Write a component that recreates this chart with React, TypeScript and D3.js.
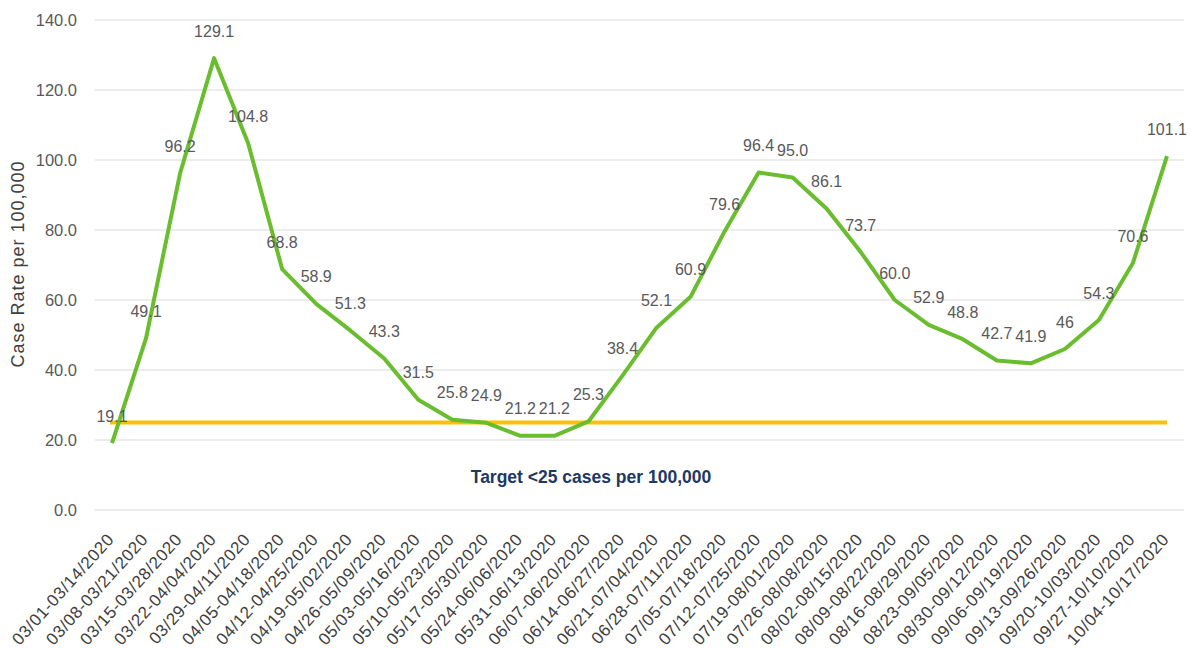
import React, { useEffect, useRef } from 'react'
import * as d3 from 'd3'

// weekly rolling windows
const weeks = [
  '03/01-03/14/2020', '03/08-03/21/2020', '03/15-03/28/2020', '03/22-04/04/2020',
  '03/29-04/11/2020', '04/05-04/18/2020', '04/12-04/25/2020', '04/19-05/02/2020',
  '04/26-05/09/2020', '05/03-05/16/2020', '05/10-05/23/2020', '05/17-05/30/2020',
  '05/24-06/06/2020', '05/31-06/13/2020', '06/07-06/20/2020', '06/14-06/27/2020',
  '06/21-07/04/2020', '06/28-07/11/2020', '07/05-07/18/2020', '07/12-07/25/2020',
  '07/19-08/01/2020', '07/26-08/08/2020', '08/02-08/15/2020', '08/09-08/22/2020',
  '08/16-08/29/2020', '08/23-09/05/2020', '08/30-09/12/2020', '09/06-09/19/2020',
  '09/13-09/26/2020', '09/20-10/03/2020', '09/27-10/10/2020', '10/04-10/17/2020',
]

const caseRate = [
  19.1, 49.1, 96.2, 129.1, 104.8, 68.8, 58.9, 51.3, 43.3, 31.5, 25.8, 24.9,
  21.2, 21.2, 25.3, 38.4, 52.1, 60.9, 79.6, 96.4, 95.0, 86.1, 73.7, 60.0,
  52.9, 48.8, 42.7, 41.9, 46, 54.3, 70.6, 101.1,
]

// labels as printed on the chart (46 has no decimal)
const rateLabels = caseRate.map((v, i) => (i === 28 ? '46' : v.toFixed(1)))

const yTicks = [0, 20, 40, 60, 80, 100, 120, 140]
const target = 25
const targetText = 'Target <25 cases per 100,000'
const yTitle = 'Case Rate per 100,000'

const W = 1196
const H = 648
const FONT = '"Liberation Sans", Arial, sans-serif'

export default function App() {
  const ref = useRef<SVGSVGElement>(null)

  useEffect(() => {
    const svg = d3.select(ref.current)
    svg.selectAll('*').remove()

    const x = d3.scalePoint<string>().domain(weeks).range([95, 1184]).padding(0.5)
    const y = d3.scaleLinear().domain([0, 140]).range([510, 20])

    // gridlines
    svg.append('g')
      .selectAll('line')
      .data(yTicks)
      .join('line')
      .attr('x1', 95)
      .attr('x2', 1184)
      .attr('y1', d => y(d))
      .attr('y2', d => y(d))
      .attr('stroke', '#d9d9d9')
      .attr('stroke-width', 1.2)

    // y tick labels
    svg.append('g')
      .selectAll('text')
      .data(yTicks)
      .join('text')
      .attr('x', 77)
      .attr('y', d => y(d))
      .attr('dy', '0.35em')
      .attr('text-anchor', 'end')
      .attr('font-family', FONT)
      .attr('font-size', 16.5)
      .attr('fill', '#595959')
      .text(d => d.toFixed(1))

    // y axis title
    svg.append('text')
      .attr('transform', `translate(24, 264) rotate(-90)`)
      .attr('text-anchor', 'middle')
      .attr('font-family', FONT)
      .attr('font-size', 18)
      .attr('letter-spacing', 1)
      .attr('fill', '#404040')
      .text(yTitle)

    // target line
    svg.append('line')
      .attr('x1', x(weeks[0])! - 2)
      .attr('x2', x(weeks[weeks.length - 1])!)
      .attr('y1', y(target))
      .attr('y2', y(target))
      .attr('stroke', '#ffc000')
      .attr('stroke-width', 4)

    svg.append('text')
      .attr('x', 591)
      .attr('y', 477)
      .attr('dy', '0.35em')
      .attr('text-anchor', 'middle')
      .attr('font-family', FONT)
      .attr('font-size', 17.5)
      .attr('font-weight', 600)
      .attr('fill', '#203864')
      .text(targetText)

    // case rate line
    const line = d3.line<number>()
      .x((_, i) => x(weeks[i])!)
      .y(d => y(d))

    svg.append('path')
      .datum(caseRate)
      .attr('d', line)
      .attr('fill', 'none')
      .attr('stroke', '#6abd2e')
      .attr('stroke-width', 4)
      .attr('stroke-linejoin', 'round')

    // data labels
    svg.append('g')
      .selectAll('text')
      .data(caseRate)
      .join('text')
      .attr('x', (_, i) => x(weeks[i])!)
      .attr('y', d => y(d) - 27)
      .attr('dy', '0.35em')
      .attr('text-anchor', 'middle')
      .attr('font-family', FONT)
      .attr('font-size', 16)
      .attr('fill', '#595959')
      .text((_, i) => rateLabels[i])

    // x labels
    svg.append('g')
      .selectAll('text')
      .data(weeks)
      .join('text')
      .attr('transform', d => `translate(${x(d)! + 3}, 540) rotate(-48)`)
      .attr('text-anchor', 'end')
      .attr('font-family', FONT)
      .attr('font-size', 17)
      .attr('letter-spacing', 0.6)
      .attr('fill', '#404040')
      .text(d => d)
  }, [])

  return (
    <svg
      ref={ref}
      width={W}
      height={H}
      style={{ position: 'absolute', left: 0, top: 0, background: '#fff' }}
    />
  )
}
